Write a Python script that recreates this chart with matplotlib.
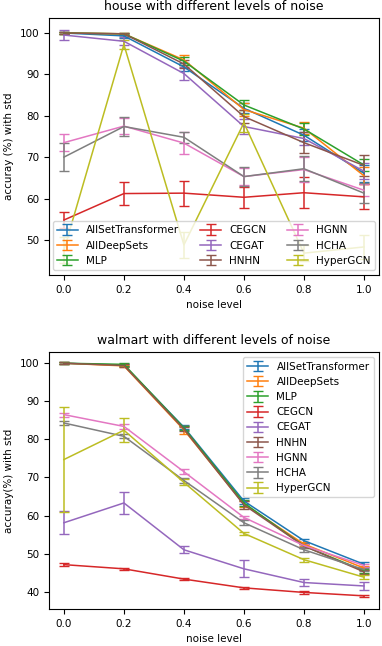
import matplotlib
matplotlib.use("Agg")
import matplotlib.pyplot as plt

plt.rcParams['font.size'] = 7.5

noise = [0.0, 0.2, 0.4, 0.6, 0.8, 1.0]
models = ['AllSetTransformer', 'AllDeepSets', 'MLP', 'CEGCN', 'CEGAT',
          'HNHN', 'HGNN', 'HCHA', 'HyperGCN']

# house: mean accuracy / std per model
house_mean = [
    [100.0, 99.3, 91.8, 81.8, 75.3, 66.1],
    [100.0, 99.8, 93.5, 81.5, 77.0, 65.5],
    [100.0, 99.8, 93.2, 82.6, 76.8, 68.1],
    [54.8, 61.2, 61.3, 60.3, 61.4, 60.4],
    [99.5, 98.0, 90.2, 77.4, 74.5, 66.6],
    [100.0, 99.8, 92.5, 79.8, 73.5, 68.0],
    [73.5, 77.5, 73.4, 65.3, 67.0, 62.0],
    [70.0, 77.4, 74.8, 65.3, 67.2, 61.3],
    [47.5, 97.2, 48.8, 78.3, 46.8, 48.3],
]
house_std = [
    [0.3, 0.5, 1.0, 1.2, 1.5, 2.0],
    [0.2, 0.3, 1.2, 1.5, 1.5, 2.0],
    [0.2, 0.3, 1.0, 1.3, 1.4, 1.5],
    [2.0, 2.7, 3.0, 2.6, 3.7, 3.0],
    [1.3, 1.0, 1.5, 1.8, 1.5, 2.0],
    [0.3, 0.3, 1.0, 1.5, 2.5, 2.5],
    [2.0, 2.0, 2.7, 2.0, 3.0, 1.5],
    [3.3, 2.2, 1.3, 2.2, 3.0, 2.5],
    [3.2, 1.0, 3.2, 2.2, 2.0, 2.8],
]

# walmart
walmart_mean = [
    [100.0, 99.5, 83.2, 63.8, 53.4, 47.2],
    [100.0, 99.3, 82.5, 63.0, 52.5, 46.2],
    [100.0, 99.7, 83.0, 63.3, 52.0, 45.5],
    [47.1, 46.0, 43.3, 41.0, 39.8, 38.9],
    [58.1, 63.3, 51.0, 46.0, 42.4, 41.5],
    [100.0, 99.4, 82.7, 62.8, 52.0, 45.2],
    [86.5, 83.4, 71.5, 59.5, 52.1, 46.9],
    [84.3, 80.8, 69.2, 58.1, 51.0, 45.8],
    [74.7, 82.4, 68.7, 55.3, 48.4, 43.8],
]
walmart_std = [
    [0.2, 0.3, 0.6, 0.8, 0.5, 0.6],
    [0.2, 0.3, 1.0, 0.8, 0.5, 0.5],
    [0.2, 0.3, 0.5, 0.7, 0.5, 0.5],
    [0.3, 0.3, 0.3, 0.3, 0.3, 0.3],
    [3.0, 2.9, 0.9, 2.2, 0.8, 1.1],
    [0.3, 0.3, 0.5, 1.0, 0.6, 0.5],
    [0.5, 0.7, 0.6, 0.5, 0.5, 0.4],
    [0.5, 0.5, 0.6, 0.6, 0.6, 0.5],
    [13.8, 3.1, 0.8, 0.5, 0.5, 0.5],
]

fig, (ax1, ax2) = plt.subplots(2, 1, figsize=(3.82, 6.46), dpi=100)
fig.subplots_adjust(left=0.128, right=0.992, top=0.972, bottom=0.057, hspace=0.3)

for i, m in enumerate(models):
    ax1.errorbar(noise, house_mean[i], yerr=house_std[i], capsize=3.5,
                 linewidth=1.1, label=m)
ax1.set_title('house with different levels of noise', fontsize=9)
ax1.set_xlabel('noise level')
ax1.set_ylabel('accuray (%) with std')
ax1.set_ylim(41.5, 103.6)
ax1.legend(loc='lower center', ncol=3, fontsize=7.5)

for i, m in enumerate(models):
    ax2.errorbar(noise, walmart_mean[i], yerr=walmart_std[i], capsize=3.5,
                 linewidth=1.1, label=m)
ax2.set_title('walmart with different levels of noise', fontsize=9)
ax2.set_xlabel('noise level')
ax2.set_ylabel('accuray(%) with std')
ax2.set_ylim(35.4, 102.9)
ax2.legend(loc='upper right', fontsize=7.5)

fig.savefig('out.png', dpi=100)
